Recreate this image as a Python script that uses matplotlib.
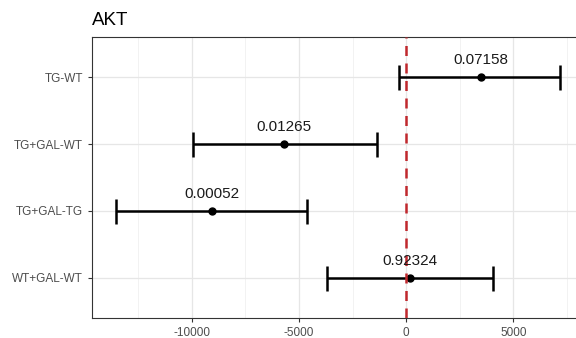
import numpy as np
import matplotlib
matplotlib.use('Agg')
from matplotlib import pyplot as plt

comparisons = ['TG-WT', 'TG+GAL-WT', 'TG+GAL-TG', 'WT+GAL-WT']
estimates = [3480, -5685, -9068, 186]
lower = [-326, -9954, -13528, -3681]
upper = [7176, -1365, -4641, 4040]
p_labels = ['0.07158', '0.01265', '0.00052', '0.92324']


def main():
    plt.rcParams['font.family'] = ['Liberation Sans', 'DejaVu Sans']
    plt.rcParams['axes.unicode_minus'] = False

    fig = plt.figure(figsize=(5.76, 3.38), dpi=100)
    ax = fig.add_axes([0.1597, 0.0592, 0.842, 0.8313])

    y = np.arange(len(comparisons))
    est = np.array(estimates)
    lo = np.array(lower)
    hi = np.array(upper)

    ax.errorbar(est, y, xerr=[est - lo, hi - est], fmt='o', color='black',
                ms=5, elinewidth=1.8, capsize=9, capthick=1.8, zorder=3)
    ax.axvline(x=0, color='#c0282d', linestyle=(0, (4, 3)), lw=1.8, zorder=4)

    for xi, yi, lab in zip(est, y, p_labels):
        ax.annotate(lab, (xi, yi), xytext=(0, 12), textcoords='offset points',
                    ha='center', va='center', fontsize=11, color='#1a1a1a', zorder=5)

    ax.set_xlim(-14640, 7960)
    ax.set_ylim(len(comparisons) - 0.4, -0.6)
    ax.set_yticks(y)
    ax.set_yticklabels(comparisons)
    ax.set_xticks([-10000, -5000, 0, 5000])
    ax.set_xticks([-12500, -7500, -2500, 2500, 7500], minor=True)

    ax.grid(True, which='major', color='#e6e6e6', lw=0.9)
    ax.grid(True, which='minor', axis='x', color='#f0f0f0', lw=0.6)
    ax.set_axisbelow(True)
    ax.tick_params(axis='both', which='major', labelsize=8.5, colors='#333333',
                   labelcolor='#4d4d4d', length=3, width=0.8)
    ax.tick_params(axis='both', which='minor', length=0)
    for s in ax.spines.values():
        s.set_color('#333333')
        s.set_linewidth(0.8)
    # panel runs off the right edge in the original
    ax.spines['right'].set_visible(False)

    fig.text(0.1597, 0.915, 'AKT', fontsize=13.5, color='black', ha='left', va='bottom')

    plt.savefig('out.png', dpi=100)


if __name__ == "__main__":
    main()
